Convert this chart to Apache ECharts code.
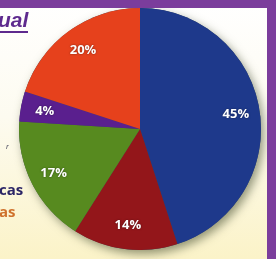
<!DOCTYPE html>
<html>
<head>
<meta charset="utf-8">
<script src="https://cdn.jsdelivr.net/npm/echarts@6/dist/echarts.min.js"></script>
<style>
html,body{margin:0;padding:0;width:276px;height:259px;overflow:hidden;
background:linear-gradient(to bottom,#ffffff 0%,#fdfbf0 45%,#fbf3c8 100%);}
#c{width:276px;height:259px;}
</style>
</head>
<body>
<div id="c"></div>
<script>
const categories = ['Azul', 'Rojo oscuro', 'Verde', 'Morado', 'Naranja'];
const values = [45, 14, 17, 4, 20];
const colors = ['#1e398b', '#93161a', '#578a1f', '#5a1f8e', '#e6411c'];

const total = values.reduce((a, b) => a + b, 0);
const data = categories.map((n, i) => ({ name: n, value: values[i], itemStyle: { color: colors[i] } }));

const chart = echarts.init(document.getElementById('c'), null, { renderer: 'canvas' });
chart.setOption({
  backgroundColor: 'transparent',
  animation: false,
  series: [
    {
      type: 'pie', silent: true, z: 1,
      center: [140, 129], radius: 121, startAngle: 90,
      label: { show: false }, labelLine: { show: false },
      itemStyle: { color: '#3a4a5a', shadowBlur: 10, shadowOffsetX: 3, shadowOffsetY: 4, shadowColor: 'rgba(60,70,40,0.55)' },
      data: [{ name: 'total', value: total }]
    },
    {
      type: 'pie', silent: true, z: 2,
      center: [140, 129], radius: 121, startAngle: 90, clockwise: true,
      label: { show: false }, labelLine: { show: false },
      itemStyle: { borderWidth: 0 },
      data: data
    },
    {
      type: 'pie', silent: true, z: 3,
      center: [140, 129], radius: [67, 121], startAngle: 90, clockwise: true,
      itemStyle: { color: 'rgba(0,0,0,0)', borderWidth: 0 },
      labelLine: { show: false },
      label: {
        show: true, position: 'inside',
        formatter: p => p.value + '%',
        color: '#ffffff', fontWeight: 'bold', fontSize: 13,
        fontFamily: '"Open Sans", "Liberation Sans", sans-serif',
        textShadowColor: 'rgba(0,0,0,0.5)', textShadowBlur: 2
      },
      data: categories.map((n, i) => ({ name: n, value: values[i] }))
    }
  ],
  graphic: [
    { type: 'rect', left: 0, top: 0, shape: { width: 276, height: 8 }, style: { fill: '#7b3d9c' }, z: 10 },
    { type: 'rect', left: 267, top: 0, shape: { width: 9, height: 259 }, style: { fill: '#7b3d9c' }, z: 10 },
    { type: 'text', left: -2, top: 11, z: 10,
      style: { text: 'ual', fill: '#5e2a8e', font: 'italic bold 21px "Liberation Sans", sans-serif' } },
    { type: 'rect', left: 0, top: 31, shape: { width: 28, height: 2 }, style: { fill: '#5e2a8e' }, z: 10 },
    { type: 'text', left: 6, top: 143, z: 10,
      style: { text: 'r', fill: '#555566', font: 'italic 8px "Liberation Sans", sans-serif' } },
    { type: 'text', left: -1, top: 183, z: 10,
      style: { text: 'cas', fill: '#2b2566', font: 'bold 15px "Open Sans", sans-serif' } },
    { type: 'text', left: -1, top: 205, z: 10,
      style: { text: 'as', fill: '#cf712c', font: 'bold 15px "Open Sans", sans-serif' } }
  ]
});
</script>
</body>
</html>
